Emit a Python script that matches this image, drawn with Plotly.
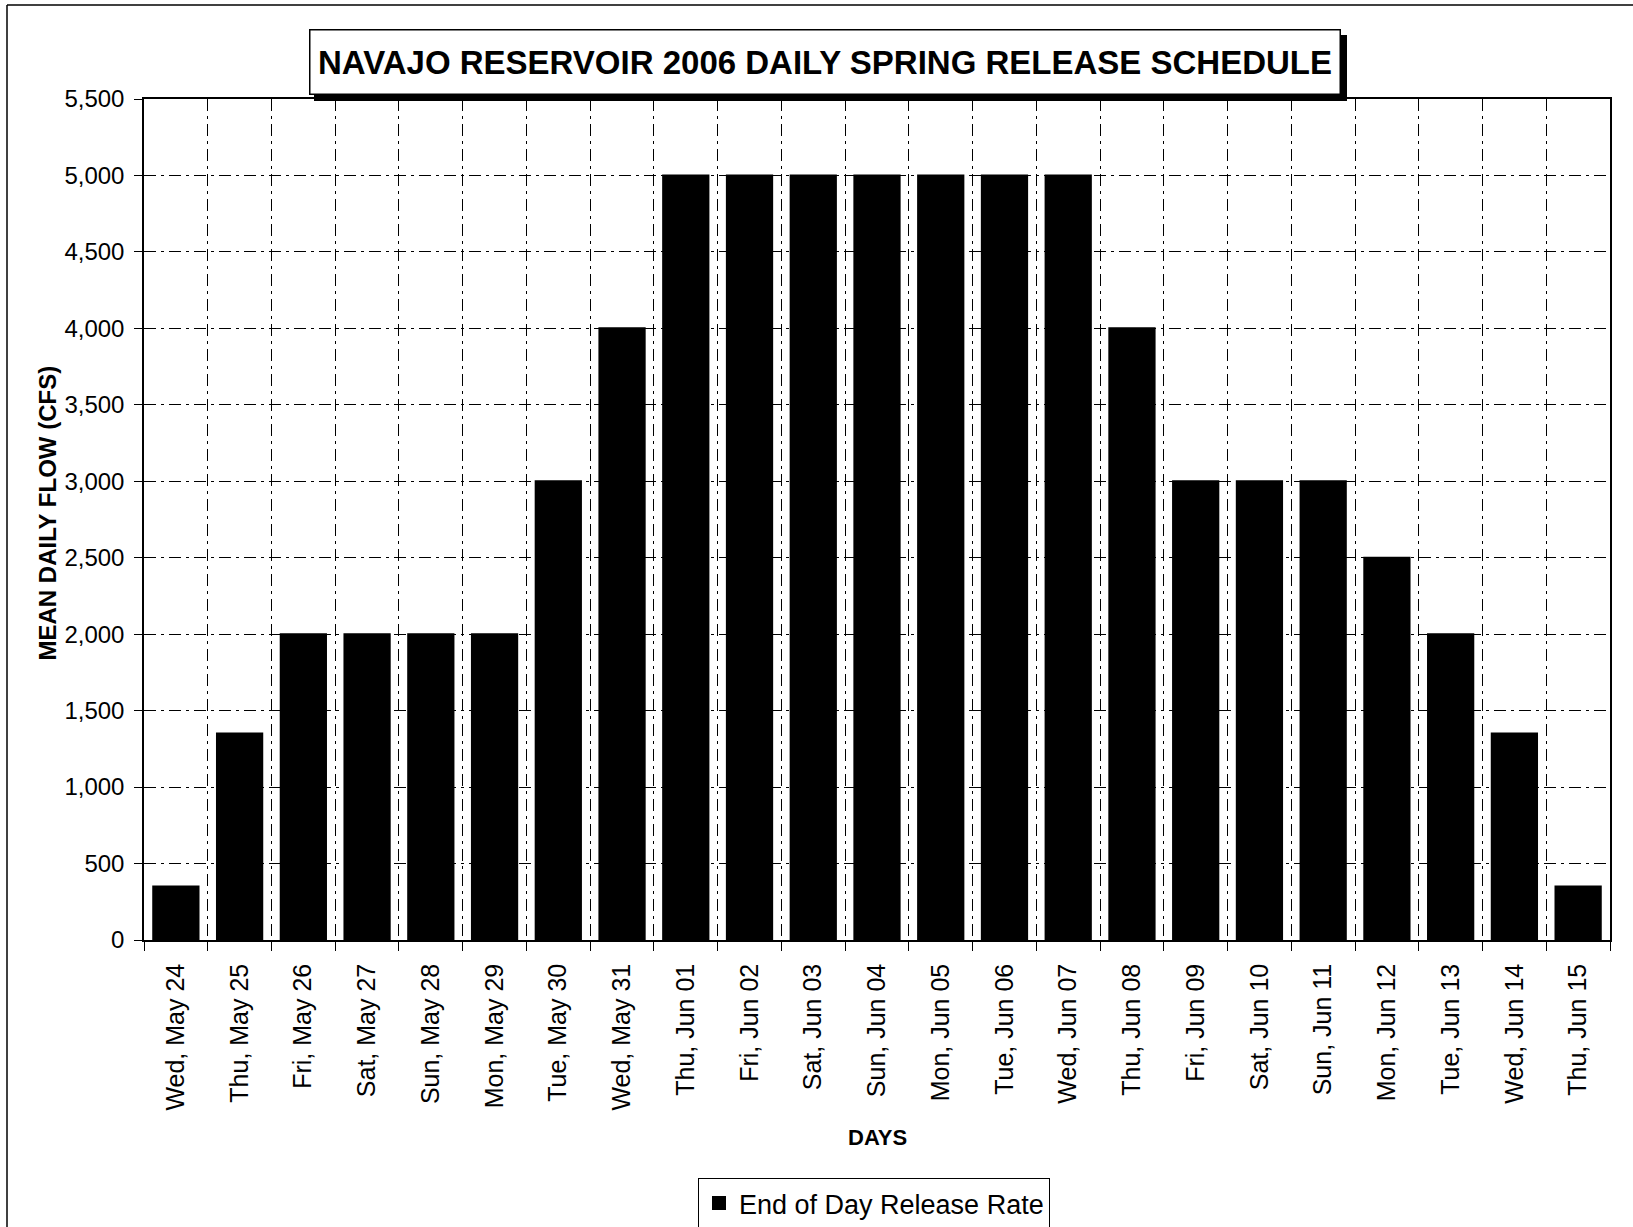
import plotly.graph_objects as go

days = ["Wed, May 24", "Thu, May 25", "Fri, May 26", "Sat, May 27", "Sun, May 28",
        "Mon, May 29", "Tue, May 30", "Wed, May 31", "Thu, Jun 01", "Fri, Jun 02",
        "Sat, Jun 03", "Sun, Jun 04", "Mon, Jun 05", "Tue, Jun 06", "Wed, Jun 07",
        "Thu, Jun 08", "Fri, Jun 09", "Sat, Jun 10", "Sun, Jun 11", "Mon, Jun 12",
        "Tue, Jun 13", "Wed, Jun 14", "Thu, Jun 15"]
release_rate = [350, 1350, 2000, 2000, 2000, 2000, 3000, 4000, 5000, 5000,
                5000, 5000, 5000, 5000, 5000, 4000, 3000, 3000, 3000, 2500,
                2000, 1350, 350]
y_ticks = list(range(0, 5501, 500))

W, H = 1633, 1227
L, R, T, B = 144, 23, 99, 287
PW, PH = W - L - R, H - T - B

def px(x):
    return (x - L) / PW

def py(y):
    return (H - B - y) / PH

FONT = "Liberation Sans, Arial, sans-serif"
DASH = "12px,5px,3px,5px"

fig = go.Figure()
fig.add_trace(go.Bar(x=days, y=release_rate, name="End of Day Release Rate",
                     marker=dict(color="black", line=dict(width=2, color="black")),
                     showlegend=True))

fig.update_layout(
    width=W, height=H,
    margin=dict(l=L, r=R, t=T, b=B, pad=0, autoexpand=False),
    paper_bgcolor="white", plot_bgcolor="white",
    bargap=0.29,
    font=dict(family=FONT, color="black"),
    showlegend=True,
    legend=dict(x=px(874), y=py(1178), xanchor="center", yanchor="top",
                orientation="h", bordercolor="black", borderwidth=1,
                bgcolor="white", font=dict(size=27, family=FONT, color="black"),
                itemwidth=30),
)

fig.update_xaxes(
    type="category", tickangle=-90, tickfont=dict(size=25, family=FONT),
    ticks="outside", ticklen=9, tickcolor="black", tickson="boundaries",
    showgrid=True, gridcolor="black", gridwidth=1, griddash=DASH,
    showline=True, linecolor="black", linewidth=1.5, mirror=True,
    ticklabelstandoff=12, automargin=False,
)
fig.update_yaxes(
    range=[0, 5500], tickvals=y_ticks, tickformat=",",
    tickfont=dict(size=24, family=FONT),
    ticks="outside", ticklen=8, tickcolor="black",
    showgrid=True, gridcolor="black", gridwidth=1, griddash=DASH,
    showline=True, linecolor="black", linewidth=1.5, mirror=True,
    zeroline=False, ticklabelstandoff=5, automargin=False,
)

shapes = [
    # outer chart border (left and top visible)
    dict(type="line", xref="paper", yref="paper", x0=px(7), x1=px(7), y0=py(5), y1=py(1230),
         line=dict(color="black", width=1.5)),
    dict(type="line", xref="paper", yref="paper", x0=px(7), x1=px(1640), y0=py(5), y1=py(5),
         line=dict(color="black", width=1.5)),
    # title box shadow
    dict(type="rect", xref="paper", yref="paper", x0=px(314), x1=px(1347), y0=py(35), y1=py(101),
         fillcolor="black", line=dict(width=0), layer="above"),
]
fig.update_layout(shapes=shapes)

fig.add_annotation(
    text="<b>NAVAJO RESERVOIR 2006 DAILY SPRING RELEASE SCHEDULE</b>",
    xref="paper", yref="paper", x=px(309), y=py(29), xanchor="left", yanchor="top",
    showarrow=False, font=dict(size=33, family=FONT, color="black"),
    bgcolor="white", bordercolor="black", borderwidth=1.5, borderpad=0,
    width=1029, height=63, align="center", valign="middle",
)
fig.add_annotation(
    text="<b>MEAN DAILY FLOW (CFS)</b>", textangle=-90,
    xref="paper", yref="paper", x=px(47), y=py(663), xanchor="center", yanchor="bottom",
    showarrow=False, font=dict(size=24, family=FONT, color="black"),
)
fig.add_annotation(
    text="<b>DAYS</b>",
    xref="paper", yref="paper", x=px(877), y=py(1137), xanchor="center", yanchor="middle",
    showarrow=False, font=dict(size=22, family=FONT, color="black"),
)

fig.write_html("out.html", config={"displayModeBar": False},
               post_script="document.body.style.margin='0';document.body.style.overflow='hidden';")
